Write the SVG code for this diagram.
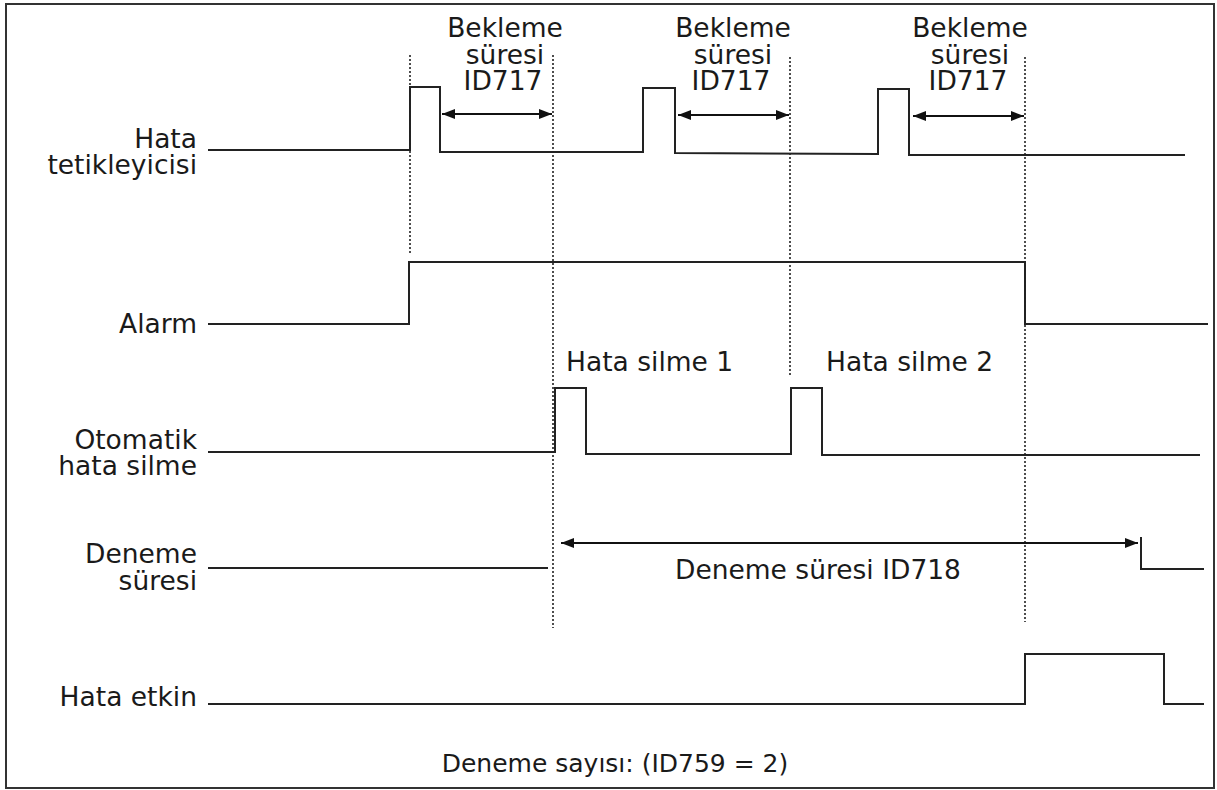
<svg xmlns="http://www.w3.org/2000/svg" width="1217" height="790" viewBox="0 0 1217 790">
<defs>
<style>
text{font-family:"DejaVu Sans","Verdana",sans-serif;font-size:26.5px;fill:#1a1a1a}
.lbl{text-anchor:end}
.mid{text-anchor:middle}
.foot{text-anchor:middle;font-size:25px}
.sig{fill:none;stroke:#222;stroke-width:2;stroke-linejoin:miter}
.dot{fill:none;stroke:#222;stroke-width:1.6;stroke-dasharray:2 2}
.arr{fill:none;stroke:#111;stroke-width:2;marker-start:url(#ah);marker-end:url(#ah)}
</style>
<marker id="ah" markerUnits="userSpaceOnUse" markerWidth="14" markerHeight="12" refX="13" refY="6" orient="auto-start-reverse">
<path d="M0,1 L13,6 L0,11 z" fill="#111"/>
</marker>
</defs>
<rect x="6" y="4" width="1208" height="784" fill="#fff" stroke="#333" stroke-width="2"/>

<g id="hata-tetikleyicisi">
<text class="lbl" x="197" y="148">Hata</text>
<text class="lbl" x="197" y="174">tetikleyicisi</text>
<polyline class="sig" points="208,150 410,150 410,87 440,87 440,152 643,152 643,88 675,88 675,153 878,154 878,89 909,89 909,155 1185,155"/>
</g>

<g id="bekleme-1">
<text class="mid" x="505" y="37">Bekleme</text>
<text class="mid" x="505" y="64">süresi</text>
<text class="mid" x="503" y="90">ID717</text>
</g>
<g id="bekleme-2">
<text class="mid" x="733" y="37">Bekleme</text>
<text class="mid" x="733" y="64">süresi</text>
<text class="mid" x="731" y="90">ID717</text>
</g>
<g id="bekleme-3">
<text class="mid" x="970" y="37">Bekleme</text>
<text class="mid" x="970" y="64">süresi</text>
<text class="mid" x="968" y="90">ID717</text>
</g>

<g id="alarm">
<text class="lbl" x="197" y="333">Alarm</text>
<polyline class="sig" points="208,324 409,324 409,262 1025,262 1025,324 1208,324"/>
</g>

<g id="otomatik-hata-silme">
<text class="lbl" x="197" y="449">Otomatik</text>
<text class="lbl" x="197" y="475">hata silme</text>
<text x="566" y="371">Hata silme 1</text>
<text x="826" y="371">Hata silme 2</text>
<polyline class="sig" points="208,452 555,452 555,388 586,388 586,454 791,454 791,388 822,388 822,455 1200,455"/>
</g>

<g id="deneme-suresi">
<text class="lbl" x="197" y="563">Deneme</text>
<text class="lbl" x="197" y="590">süresi</text>
<text x="675" y="579">Deneme süresi ID718</text>
<polyline class="sig" points="208,568 548,568"/>
<polyline class="sig" points="1141,537 1141,569 1204,569"/>
</g>

<g id="hata-etkin">
<text class="lbl" x="197" y="706">Hata etkin</text>
<polyline class="sig" points="208,704 1025,704 1025,654 1164,654 1164,704 1204,704"/>
</g>

<g id="connectors">
<line class="dot" x1="410" y1="55" x2="410" y2="253"/>
<line class="dot" x1="553" y1="55" x2="553" y2="628"/>
<line class="dot" x1="790" y1="57" x2="790" y2="375"/>
<line class="dot" x1="1025" y1="57" x2="1025" y2="622"/>
<line class="arr" x1="442" y1="114" x2="552" y2="114"/>
<line class="arr" x1="678" y1="115" x2="789" y2="115"/>
<line class="arr" x1="913" y1="116" x2="1024" y2="116"/>
<line class="arr" x1="561" y1="543" x2="1138" y2="543"/>
</g>

<g id="footer">
<text class="foot" x="615" y="772">Deneme sayısı: (ID759 = 2)</text>
</g>
</svg>
